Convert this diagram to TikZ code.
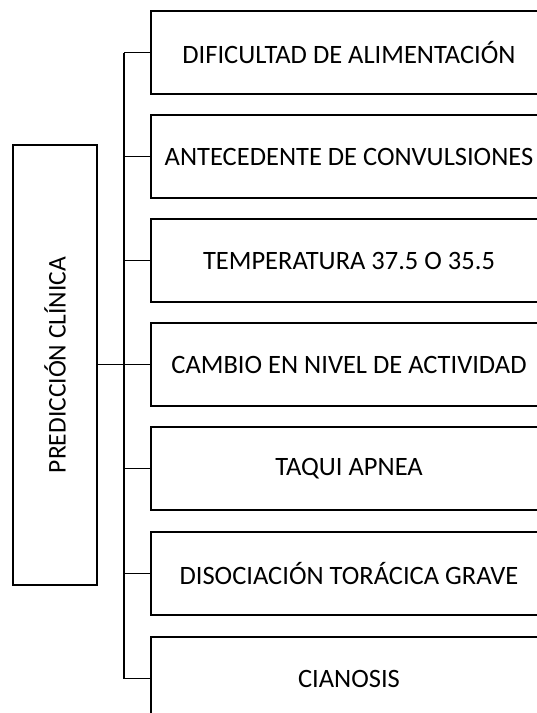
\documentclass[tikz,border=0pt]{standalone}
\usepackage{fontspec}
\setmainfont{Carlito}
\begin{document}
\begin{tikzpicture}[x=1pt,y=-1pt,
  every node/.style={font=\fontsize{26.5}{30}\selectfont},
  itembox/.style={draw, line width=1.6pt, minimum width=396pt, minimum height=83pt, inner sep=0pt, anchor=center},
  mainbox/.style={draw, line width=1.6pt, minimum width=84pt, minimum height=440pt, inner sep=0pt},
  conn/.style={line width=1.9pt}]
\fill[white] (0,0) rectangle (537,713);
\useasboundingbox (0,0) rectangle (537,713);
\clip (0,0) rectangle (537,713);
\node[mainbox] (pc) at (55,365) {\rotatebox{90}{\fontsize{25.5}{30}\selectfont PREDICCIÓN CLÍNICA}};
\node[itembox] (b1) at (349,52.5) {DIFICULTAD DE ALIMENTACIÓN};
\node[itembox] (b2) at (349,156.5) {ANTECEDENTE DE CONVULSIONES};
\node[itembox] (b3) at (349,260.5) {TEMPERATURA 37.5 O 35.5};
\node[itembox] (b4) at (349,364.5) {CAMBIO EN NIVEL DE ACTIVIDAD};
\node[itembox] (b5) at (349,468.5) {TAQUI APNEA};
\node[itembox] (b6) at (349,573.5) {DISOCIACIÓN TORÁCICA GRAVE};
\node[itembox] (b7) at (349,678.5) {CIANOSIS};
\coordinate (tx) at (124,0);
\draw[conn] (tx |- b1.west) -- (tx |- b7.west);
\foreach \b in {b1,b2,b3,b5,b6,b7}{
  \draw[conn] (\b.west) -- (tx |- \b.west);
}
\draw[conn] (pc.east |- b4.west) -- (b4.west);
\end{tikzpicture}
\end{document}
